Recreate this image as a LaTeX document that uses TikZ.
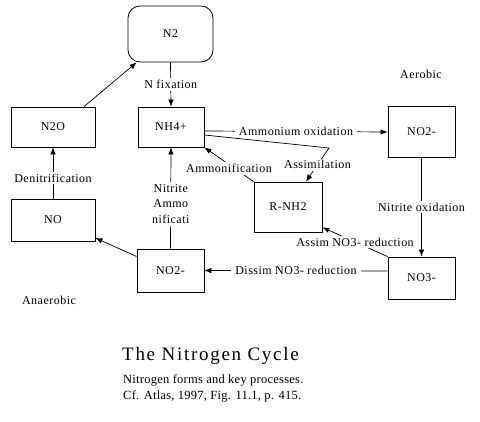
\documentclass[tikz,border=0pt]{standalone}
\usepackage{fontspec}
\setmainfont{Liberation Serif}
\usetikzlibrary{arrows.meta}
\begin{document}
\begin{tikzpicture}[x=1pt,y=-1pt,
  box/.style={draw,line width=0.8pt,inner sep=0pt,font=\fontsize{12}{15}\selectfont\addfontfeature{LetterSpace=4}},
  lab/.style={fill=white,inner xsep=4pt,inner ysep=2pt,font=\fontsize{12}{15}\selectfont\addfontfeature{LetterSpace=4}},
  txt/.style={inner sep=0pt,font=\fontsize{12}{15}\selectfont\addfontfeature{LetterSpace=4}},
  arr/.style={line width=0.7pt,-{Latex[length=7pt,width=5.5pt]}},
  ln/.style={line width=0.7pt}]
\useasboundingbox (0,0) rectangle (480,422);
% nodes
\node[box,rounded corners=12pt,minimum width=85pt,minimum height=56pt] (n2) at (170.5,34) {N2};
\node[box,minimum width=84pt,minimum height=40pt] (n2o) at (53,127) {N2O};
\node[box,minimum width=66pt,minimum height=40pt] (nh4) at (171,127) {NH4+};
\node[box,minimum width=67pt,minimum height=51pt] (no2r) at (421.5,131.5) {NO2-};
\node[box,minimum width=84pt,minimum height=42pt] (no) at (53,220) {NO};
\node[box,minimum width=67pt,minimum height=43pt] (no2b) at (170.5,270.5) {NO2-};
\node[box,minimum width=68pt,minimum height=50pt] (rnh2) at (288,207) {R-NH2};
\node[box,minimum width=67pt,minimum height=42pt] (no3) at (421.5,278) {NO3-};
\coordinate (c1) at (329,148);
% free texts
\node[txt] (aer) at (421,74) {Aerobic};
\node[txt] (anaer) at (49,300) {Anaerobic};
\node[inner sep=0pt,font=\fontsize{19}{22}\selectfont\addfontfeature{LetterSpace=9}] (title) at (210.5,356) {The Nitrogen Cycle};
\node[inner sep=0pt,align=left,anchor=north west,font=\fontsize{12.5}{16}\selectfont\addfontfeature{LetterSpace=2}] (sub) at (123,374) {Nitrogen forms and key processes.\\Cf. Atlas, 1997, Fig. 11.1, p. 415.};
% connectors
\draw[arr] (n2.south) -- node[lab]{N fixation} (nh4.north);
\draw[arr] ([yshift=-4pt]nh4.east) -- node[lab]{Ammonium oxidation} ([yshift=-0.5pt]no2r.west);
\draw[arr] ([yshift=-8pt]nh4.east) -- (c1) -- node[lab,pos=0.5]{Assimilation} ([xshift=18pt]rnh2.north);
\draw[arr] (rnh2.north west) -- node[lab,pos=0.5,yshift=-4pt]{Ammonification} (nh4.south east);
\draw[arr] (no2b.north) -- node[lab,align=center,yshift=-6pt,font=\fontsize{12}{15.5}\selectfont\addfontfeature{LetterSpace=4}]{Nitrite\\Ammo\\nificati} (nh4.south);
\draw[arr] (no.north) -- node[lab,yshift=-5pt]{Denitrification} (n2o.south);
\draw[arr] ([xshift=31pt]n2o.north) -- ([xshift=9pt]n2.south west);
\draw[arr] ([yshift=14pt]no2b.west) -- ([yshift=-18pt]no.east);
\draw[arr] ([yshift=7pt]no3.west) -- node[lab]{Dissim NO3- reduction} (no2b.east);
\draw[arr] (no3.north west) -- node[lab]{Assim NO3- reduction} ([yshift=5pt]rnh2.south east);
\draw[arr] (no2r.south) -- node[lab]{Nitrite oxidation} (no3.north);
\end{tikzpicture}
\end{document}
